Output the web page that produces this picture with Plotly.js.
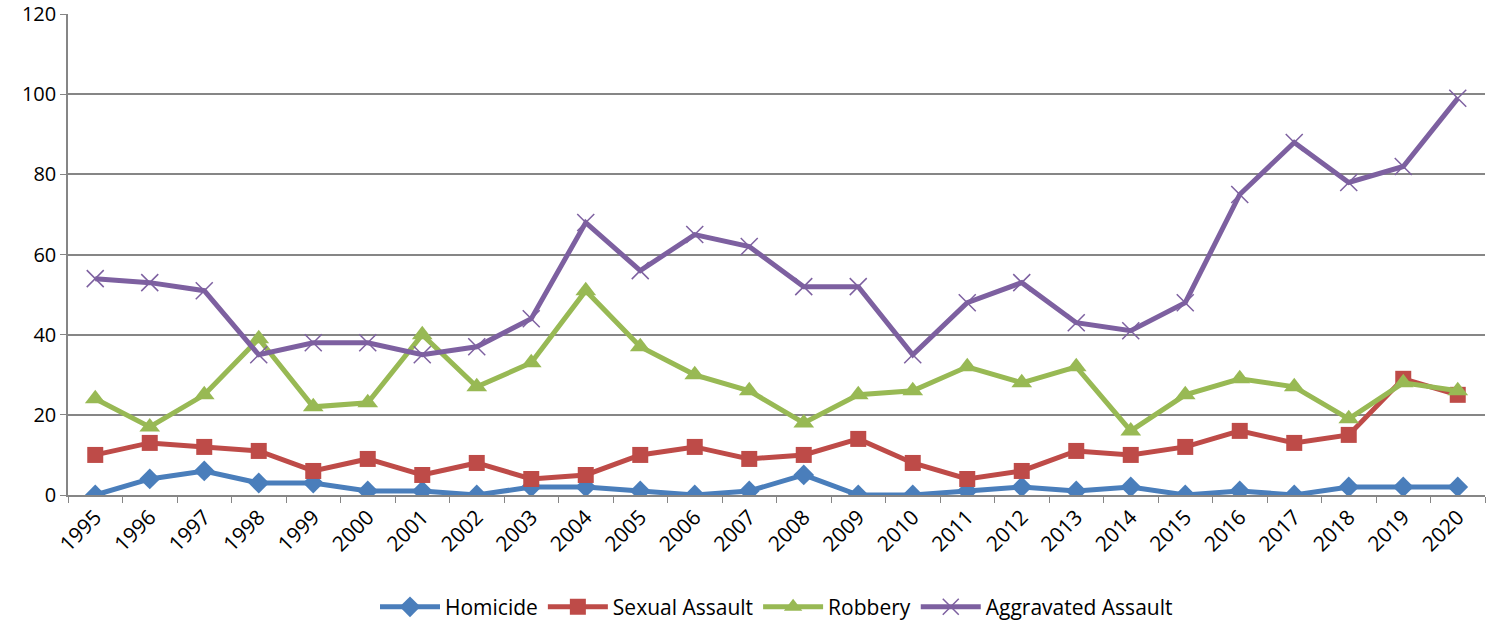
<!DOCTYPE html>
<html>
<head>
<meta charset="utf-8">
<script src="https://cdn.plot.ly/plotly-3.0.1.min.js"></script>
<style>html,body{margin:0;padding:0;background:#fff;}#chart{width:1495px;height:624px;}</style>
</head>
<body>
<div id="chart"></div>
<script>
const years = ["1995","1996","1997","1998","1999","2000","2001","2002","2003","2004","2005","2006","2007","2008","2009","2010","2011","2012","2013","2014","2015","2016","2017","2018","2019","2020"];
const homicide = [0,4,6,3,3,1,1,0,2,2,1,0,1,5,0,0,1,2,1,2,0,1,0,2,2,2];
const sexualAssault = [10,13,12,11,6,9,5,8,4,5,10,12,9,10,14,8,4,6,11,10,12,16,13,15,29,25];
const robbery = [24,17,25,39,22,23,40,27,33,51,37,30,26,18,25,26,32,28,32,16,25,29,27,19,28,26];
const aggravatedAssault = [54,53,51,35,38,38,35,37,44,68,56,65,62,52,52,35,48,53,43,41,48,75,88,78,82,99];

const font = "Open Sans, Liberation Sans, sans-serif";
function tr(name, y, color, symbol, size, open) {
  const m = {symbol: symbol, size: size, color: color};
  if (open) m.line = {color: color, width: 1.5};
  return {type: 'scatter', mode: 'lines+markers', name: name, x: years, y: y,
    line: {color: color, width: 5}, marker: m};
}
const data = [
  tr("Homicide", homicide, "#4A7EBB", "diamond", 16, false),
  tr("Sexual Assault", sexualAssault, "#BE4B48", "square", 16, false),
  tr("Robbery", robbery, "#98B954", "triangle-up", 18, false),
  tr("Aggravated Assault", aggravatedAssault, "#7D60A0", "x-thin", 17, true)
];
const layout = {
  width: 1495, height: 624,
  margin: {l: 68, r: 10, t: 14, b: 129, autoexpand: false},
  paper_bgcolor: '#fff', plot_bgcolor: '#fff',
  showlegend: true,
  legend: {orientation: 'h', x: 0.5, xanchor: 'center', yref: 'container', y: 0.027, yanchor: 'middle',
    font: {family: font, size: 21, color: '#000'}, itemwidth: 60},
  xaxis: {type: 'category', tickson: 'boundaries', showgrid: false, automargin: false,
    showline: true, linecolor: '#868686', linewidth: 1.5,
    ticks: 'outside', ticklen: 6, tickcolor: '#868686',
    tickangle: -45, tickfont: {family: font, size: 21, color: '#000'},
    range: [-0.5, 25.5]},
  yaxis: {range: [0, 120.05], dtick: 20, showgrid: true, gridcolor: '#868686', gridwidth: 1.5,
    showline: true, linecolor: '#868686', linewidth: 1.5, automargin: false,
    ticks: 'outside', ticklen: 6, tickcolor: '#868686', ticklabeloverflow: 'allow',
    tickfont: {family: font, size: 20, color: '#000'}, zeroline: false}
};
Plotly.newPlot('chart', data, layout, {displayModeBar: false});
</script>
</body>
</html>
